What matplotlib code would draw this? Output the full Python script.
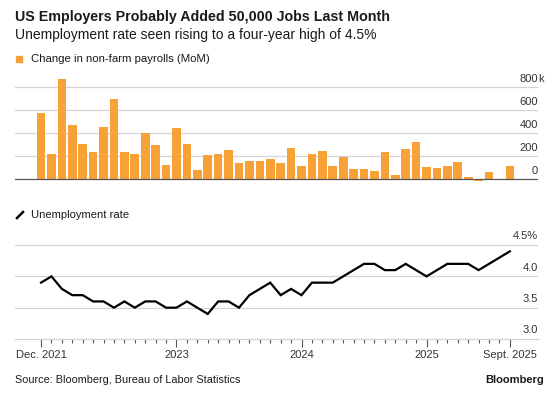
import matplotlib
matplotlib.use("Agg")
import matplotlib.pyplot as plt
from matplotlib.lines import Line2D

# Veri: Aralık 2021 - Eylül 2025 (aylık)
payrolls = [571, 217, 867, 467, 301, 238, 455, 693, 235, 220,
            397, 293, 122, 441, 301, 81, 209, 220, 252, 142,
            154, 154, 177, 136, 267, 113, 217, 241, 113, 188,
            84, 84, 67, 238, 38, 258, 319, 104, 99, 116,
            151, 14, -13, 64, 3, 115]
rate = [3.9, 4.0, 3.8, 3.7, 3.7, 3.6, 3.6, 3.5, 3.6, 3.5,
        3.6, 3.6, 3.5, 3.5, 3.6, 3.5, 3.4, 3.6, 3.6, 3.5,
        3.7, 3.8, 3.9, 3.7, 3.8, 3.7, 3.9, 3.9, 3.9, 4.0,
        4.1, 4.2, 4.2, 4.1, 4.1, 4.2, 4.1, 4.0, 4.1, 4.2,
        4.2, 4.2, 4.1, 4.2, 4.3, 4.4]
x_labels = {0: "Dec. 2021", 13: "2023", 25: "2024", 37: "2025", 45: "Sept. 2025"}
pay_ticks = [0, 200, 400, 600, 800]
rate_ticks = [3.0, 3.5, 4.0, 4.5]
rate_tick_labels = ["3.0", "3.5", "4.0", "4.5"]

ORANGE = "#F8A137"
GRID = "#d4d4d4"
TXT = "#1a1a1a"
plt.rcParams["font.family"] = ["Liberation Sans", "DejaVu Sans"]

W, H = 560, 394
fig = plt.figure(figsize=(W / 100, H / 100), dpi=100)


def px_axes(left, top, right, bottom):
    return fig.add_axes([left / W, 1 - bottom / H, (right - left) / W, (bottom - top) / H])


xs = list(range(len(payrolls)))
xlim = (-2.5, 47.7)

# Üst panel: bordro değişimi
ax1 = px_axes(15, 72, 538, 185)
ax1.bar(xs, payrolls, width=0.83, color=ORANGE, zorder=2)
ax1.set_xlim(xlim)
ax1.set_ylim(-52, 930)
for v in pay_ticks:
    ax1.axhline(v, color="#555555" if v == 0 else GRID, lw=0.9, zorder=1 if v else 3)
    ax1.text(1.0, v + 22, str(v), transform=ax1.get_yaxis_transform(),
             ha="right", va="bottom", fontsize=8, color="#333333")
ax1.text(1.0, 822, "k", transform=ax1.get_yaxis_transform(),
         ha="left", va="bottom", fontsize=8, color="#333333")
ax1.axis("off")

# Alt panel: işsizlik oranı
ax2 = px_axes(15, 238, 538, 339)
ax2.plot(xs, rate, color="black", lw=1.6, solid_joinstyle="miter", zorder=3)
ax2.set_xlim(xlim)
ax2.set_ylim(3.0, 4.613)
for v, lab in zip(rate_ticks, rate_tick_labels):
    if v > 3.0:
        ax2.axhline(v, color=GRID, lw=0.9, zorder=1)
    ax2.text(1.0, v + 0.06, lab + ("%" if v == 4.5 else ""), transform=ax2.get_yaxis_transform(),
             ha="right", va="bottom", fontsize=8, color="#333333")
for s in ["top", "left", "right"]:
    ax2.spines[s].set_visible(False)
ax2.spines["bottom"].set_color(GRID)
ax2.spines["bottom"].set_linewidth(0.9)
ax2.set_yticks([])
ax2.set_xticks(list(x_labels.keys()))
ax2.set_xticklabels(list(x_labels.values()), fontsize=8, color="#333333")
ax2.set_xticks(xs, minor=True)
ax2.tick_params(axis="x", which="major", length=6, width=0.8, color="#555555", pad=2)
ax2.tick_params(axis="x", which="minor", length=3, width=0.8, color="#555555")

# Başlıklar ve açıklamalar
fig.text(15 / W, 1 - 17 / H, "US Employers Probably Added 50,000 Jobs Last Month",
         fontsize=10.3, fontweight="bold", color=TXT, va="center")
fig.text(15 / W, 1 - 35 / H, "Unemployment rate seen rising to a four-year high of 4.5%",
         fontsize=10, color=TXT, va="center")
fig.patches.append(plt.Rectangle((16 / W, 1 - 62 / H), 6 / W, 6 / H, color=ORANGE,
                                 transform=fig.transFigure, figure=fig))
fig.text(31 / W, 1 - 59 / H, "Change in non-farm payrolls (MoM)", fontsize=8.2, color=TXT, va="center")
fig.add_artist(Line2D([17 / W, 23 / W], [1 - 218 / H, 1 - 212 / H], color="black", lw=1.8,
                      transform=fig.transFigure))
fig.text(31 / W, 1 - 215 / H, "Unemployment rate", fontsize=8.1, color=TXT, va="center")
fig.text(15 / W, 1 - 380 / H, "Source: Bloomberg, Bureau of Labor Statistics", fontsize=7.8,
         color=TXT, va="center")
fig.text(544 / W, 1 - 380 / H, "Bloomberg", fontsize=8, fontweight="bold", color=TXT,
         va="center", ha="right")

fig.savefig("out.png", dpi=100)
